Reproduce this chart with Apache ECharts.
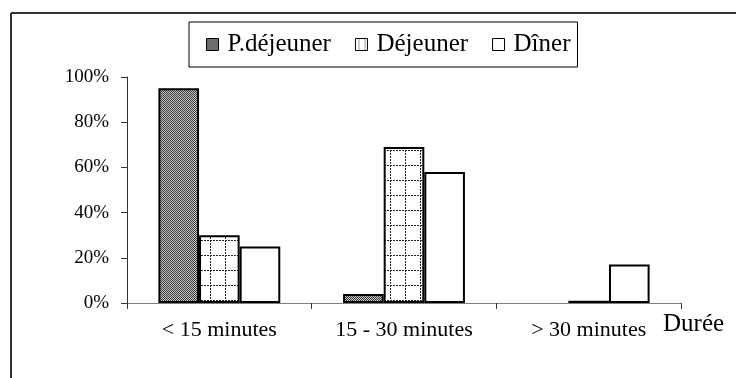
<!DOCTYPE html>
<html>
<head>
<meta charset="utf-8">
<script src="https://cdn.jsdelivr.net/npm/echarts@6/dist/echarts.min.js"></script>
<style>
  html, body { margin: 0; padding: 0; background: #fff; }
  #chart { width: 736px; height: 378px; }
</style>
</head>
<body>
<div id="chart"></div>
<script>
// Durée des repas, par type de repas
var categories = ['< 15 minutes', '15 - 30 minutes', '> 30 minutes'];
var petitDejeuner = [95, 4, 0];
var dejeuner = [30, 69, 1];
var diner = [25, 58, 17];
var yTicks = [0, 20, 40, 60, 80, 100];

// Fine grey stipple fill
function stipple() {
  var c = document.createElement('canvas');
  c.width = 2; c.height = 2;
  var g = c.getContext('2d');
  g.fillStyle = '#c4c4c4'; g.fillRect(0, 0, 2, 2);
  g.fillStyle = '#3c3c3c'; g.fillRect(0, 0, 1, 1); g.fillRect(1, 1, 1, 1);
  return c;
}
// White fill crossed by dotted grid lines
function dottedGrid() {
  var c = document.createElement('canvas');
  c.width = 15; c.height = 15;
  var g = c.getContext('2d');
  g.fillStyle = '#ffffff'; g.fillRect(0, 0, 15, 15);
  g.fillStyle = '#222222';
  for (var i = 0; i < 15; i += 3) {
    g.fillRect(i, 0, 2, 1);
    g.fillRect(0, i, 1, 2);
  }
  return c;
}
// Small legend swatch: dotted cross inside a white square
function dottedSwatch() {
  var c = document.createElement('canvas');
  c.width = 6; c.height = 6;
  var g = c.getContext('2d');
  g.fillStyle = '#ffffff'; g.fillRect(0, 0, 6, 6);
  g.fillStyle = '#333333';
  g.fillRect(3, 0, 1, 1); g.fillRect(3, 2, 1, 1); g.fillRect(3, 4, 1, 1);
  return c;
}

var serif = '"Liberation Serif", "DejaVu Serif", serif';
var fills = {
  pdej: { image: stipple(), repeat: 'repeat' },
  dej: { image: dottedGrid(), repeat: 'repeat' },
  din: '#ffffff'
};

var chart = echarts.init(document.getElementById('chart'));

// Empty values get no outline so nothing is drawn for them
function barData(values) {
  return values.map(function (v) {
    return v === 0 ? { value: v, itemStyle: { borderWidth: 0, opacity: 0 } } : v;
  });
}

function barSeries(name, data, fill) {
  return {
    name: name,
    type: 'bar',
    data: barData(data),
    barGap: '0%',
    barCategoryGap: '34%',
    itemStyle: { color: fill, borderColor: '#000', borderWidth: 2 },
    emphasis: { disabled: true }
  };
}

chart.setOption({
  animation: false,
  backgroundColor: '#fff',
  grid: { left: 127, right: 55, top: 77, bottom: 75, containLabel: false },
  legend: {
    top: 22,
    left: 189,
    padding: [10, 7, 10, 17],
    borderColor: '#000',
    borderWidth: 1,
    itemWidth: 12,
    itemHeight: 12,
    itemGap: 24,
    icon: 'rect',
    selectedMode: false,
    textStyle: { fontFamily: serif, fontSize: 25, color: '#000', padding: [0, 0, 0, 4] },
    data: [
      { name: 'P.déjeuner', itemStyle: { color: '#6e6e6e', borderColor: '#000', borderWidth: 1 } },
      { name: 'Déjeuner', itemStyle: { color: { image: dottedSwatch(), repeat: 'repeat' }, borderColor: '#000', borderWidth: 1 } },
      { name: 'Dîner', itemStyle: { color: '#fff', borderColor: '#000', borderWidth: 1 } }
    ]
  },
  xAxis: {
    type: 'category',
    data: categories,
    name: 'Durée',
    nameLocation: 'end',
    nameGap: -18,
    nameTextStyle: { fontFamily: serif, fontSize: 25, color: '#000', verticalAlign: 'top', padding: [9, 0, 0, 0] },
    axisLine: { lineStyle: { color: '#808080', width: 1 } },
    axisTick: { show: true, length: 6, inside: false, lineStyle: { color: '#333' } },
    axisLabel: { fontFamily: serif, fontSize: 22, color: '#000', margin: 16 }
  },
  yAxis: {
    type: 'value',
    min: yTicks[0],
    max: yTicks[yTicks.length - 1],
    interval: yTicks[1] - yTicks[0],
    splitLine: { show: false },
    axisLine: { show: true, lineStyle: { color: '#333', width: 1 } },
    axisTick: { show: true, length: 6, lineStyle: { color: '#333' } },
    axisLabel: { fontFamily: serif, fontSize: 19, color: '#000', margin: 18, formatter: '{value}%' }
  },
  graphic: [
    { type: 'line', shape: { x1: 11, y1: 13, x2: 736, y2: 13 }, style: { stroke: '#333', lineWidth: 2 } },
    { type: 'line', shape: { x1: 11, y1: 13, x2: 11, y2: 378 }, style: { stroke: '#333', lineWidth: 2 } }
  ],
  series: [
    barSeries('P.déjeuner', petitDejeuner, fills.pdej),
    barSeries('Déjeuner', dejeuner, fills.dej),
    barSeries('Dîner', diner, fills.din)
  ]
});
</script>
</body>
</html>
